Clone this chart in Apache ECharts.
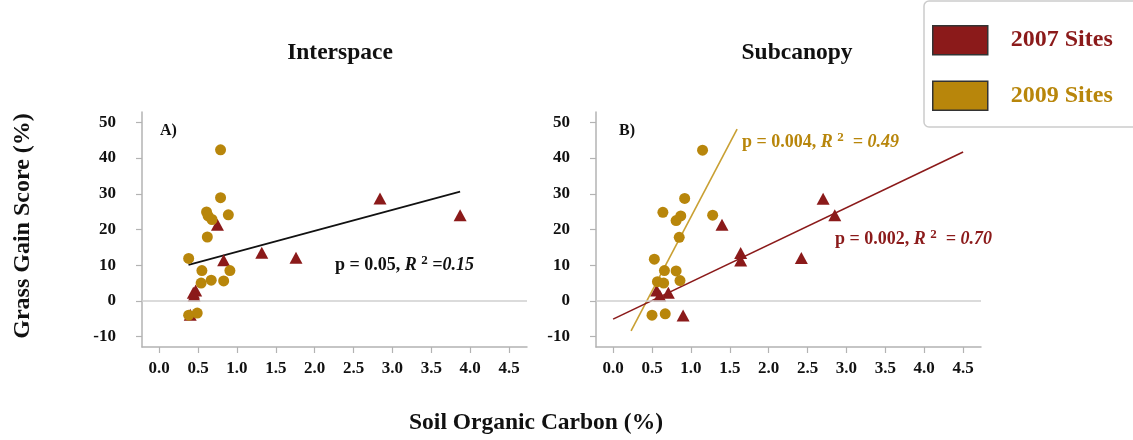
<!DOCTYPE html>
<html><head><meta charset="utf-8">
<script src="https://cdn.jsdelivr.net/npm/echarts@6/dist/echarts.min.js"></script>
<style>html,body{margin:0;padding:0;background:#fff}#c{width:1133px;height:440px}</style>
</head><body><div id="c"></div>
<script>
// ---- data ----
const panelTitles = ['Interspace', 'Subcanopy'];
const panelTags = ['A)', 'B)'];
const seriesNames = ['2007 Sites', '2009 Sites'];
const xTicks = [0, 0.5, 1.0, 1.5, 2.0, 2.5, 3.0, 3.5, 4.0, 4.5];
const yTicks = [-10, 0, 10, 20, 30, 40, 50];

// Panel A (Interspace)
const socA2007  = [0.40, 0.45, 0.47, 0.44, 0.75, 0.83, 1.32, 1.76, 2.84, 3.87];
const gainA2007 = [-3.9, 1.5, 2.9, 2.3, 21.3, 11.4, 13.5, 12.1, 28.7, 24.0];
const socA2009  = [0.38, 0.49, 0.38, 0.55, 0.54, 0.67, 0.83, 0.91, 0.62, 0.61, 0.63, 0.68, 0.89, 0.79, 0.79];
const gainA2009 = [-4.0, -3.4, 11.9, 8.5, 5.0, 5.8, 5.6, 8.5, 17.9, 24.9, 23.8, 22.8, 24.1, 28.9, 42.3];
// Panel B (Subcanopy)
const socB2007  = [0.56, 0.60, 0.71, 0.90, 1.40, 1.64, 1.64, 2.42, 2.70, 2.85];
const gainB2007 = [2.9, 1.5, 2.3, -4.1, 21.3, 13.4, 11.3, 12.0, 28.6, 24.0];
const socB2009  = [1.15, 0.92, 0.64, 0.87, 0.81, 1.28, 0.85, 0.53, 0.66, 0.81, 0.57, 0.65, 0.86, 0.50, 0.67];
const gainB2009 = [42.2, 28.7, 24.8, 23.8, 22.5, 24.0, 17.8, 11.7, 8.5, 8.4, 5.4, 5.0, 5.7, -4.0, -3.6];

// Regression lines (end points)
const trendAx = [0.378, 3.87],   trendAy = [10.1, 30.6];
const trendB09x = [0.231, 1.594], trendB09y = [-8.4, 48.1];
const trendB07x = [0.0, 4.5],     trendB07y = [-5.1, 41.7];

const statA = ['0.05', '0.15'];
const statB09 = ['0.004', '0.49'];
const statB07 = ['0.002', '0.70'];

// ---- styling ----
const RED = '#8b1a1a', GOLD = '#b8860b', GOLDLINE = '#c9a033';
const FONT = '"Liberation Serif", "Times New Roman", serif';
const pairs = (xs, ys) => xs.map((x, i) => [x, ys[i]]);

const chart = echarts.init(document.getElementById('c'), null, {renderer: 'canvas'});

const gridW = 385, gridTop = 112, gridH = 235;
const grids = [{left: 142, top: gridTop, width: gridW, height: gridH},
               {left: 596, top: gridTop, width: gridW, height: gridH}];

const axisCol = '#b3b3b3';
const xAxes = [0, 1].map(i => ({
  gridIndex: i, type: 'value', min: -0.22, max: 4.73,
  axisLine: {show: true, onZero: false, lineStyle: {color: axisCol, width: 1.5}},
  axisTick: {show: true, customValues: xTicks, length: 6, lineStyle: {color: axisCol, width: 1.2}},
  axisLabel: {customValues: xTicks, formatter: v => Number(v).toFixed(1), margin: 13,
    fontFamily: FONT, fontWeight: 'bold', fontSize: 17, color: '#111'},
  splitLine: {show: false}
}));
const yAxes = [0, 1].map(i => ({
  gridIndex: i, type: 'value', min: -12.9, max: 52.9,
  axisLine: {show: true, onZero: false, lineStyle: {color: axisCol, width: 1.5}},
  axisTick: {show: true, customValues: yTicks, length: 6, lineStyle: {color: axisCol, width: 1.2}},
  axisLabel: {customValues: yTicks, formatter: v => String(Math.round(v)), margin: 26,
    fontFamily: FONT, fontWeight: 'bold', fontSize: 17, color: '#111'},
  splitLine: {show: false}
}));

const zeroLine = {silent: true, symbol: ['none', 'none'], label: {show: false},
  lineStyle: {color: '#cfcfcf', width: 1.5, type: 'solid'}, data: [{yAxis: 0}]};

function scatter(name, idx, xs, ys, sym, color, size, z) {
  return {name, type: 'scatter', xAxisIndex: idx, yAxisIndex: idx, symbol: sym, symbolSize: size,
    itemStyle: {color, opacity: 1}, data: pairs(xs, ys), z};
}
function trend(name, idx, xs, ys, color) {
  return {name, type: 'line', xAxisIndex: idx, yAxisIndex: idx, data: pairs(xs, ys), symbol: 'none',
    lineStyle: {color, width: 1.6}, silent: true, z: 1};
}

const series = [
  Object.assign(trend('trendA', 0, trendAx, trendAy, '#111'), {markLine: zeroLine}),
  scatter(seriesNames[0], 0, socA2007, gainA2007, 'triangle', RED, [13, 12], 3),
  scatter(seriesNames[1], 0, socA2009, gainA2009, 'circle', GOLD, 11, 4),
  Object.assign(trend('trendB09', 1, trendB09x, trendB09y, GOLDLINE), {markLine: zeroLine}),
  trend('trendB07', 1, trendB07x, trendB07y, RED),
  scatter(seriesNames[0], 1, socB2007, gainB2007, 'triangle', RED, [13, 12], 3),
  scatter(seriesNames[1], 1, socB2009, gainB2009, 'circle', GOLD, 11, 4)
];

function statText(p, r2, color, x, y, tight) {
  return {type: 'text', x, y, style: {
    text: '{a|p = ' + p + ', }{i|R }{s|2}{i|' + (tight ? ' =' : '  = ') + r2 + '}',
    verticalAlign: 'middle',
    rich: {
      a: {fontFamily: FONT, fontWeight: 'bold', fontSize: 18, fill: color, color},
      i: {fontFamily: FONT, fontWeight: 'bold', fontStyle: 'italic', fontSize: 18, fill: color, color},
      s: {fontFamily: FONT, fontWeight: 'bold', fontSize: 13, fill: color, color, padding: [0, 0, 9, 0]}
    }}};
}

const textStyleBase = {fontFamily: FONT, fontWeight: 'bold', fill: '#111'};
const graphic = [
  {type: 'text', x: 340, y: 53, style: Object.assign({text: panelTitles[0], fontSize: 23.5, align: 'center', verticalAlign: 'middle'}, textStyleBase)},
  {type: 'text', x: 797, y: 53, style: Object.assign({text: panelTitles[1], fontSize: 23.5, align: 'center', verticalAlign: 'middle'}, textStyleBase)},
  {type: 'text', x: 160, y: 131, style: Object.assign({text: panelTags[0], fontSize: 16, verticalAlign: 'middle'}, textStyleBase)},
  {type: 'text', x: 619, y: 131, style: Object.assign({text: panelTags[1], fontSize: 16, verticalAlign: 'middle'}, textStyleBase)},
  {type: 'text', x: 536, y: 423, style: Object.assign({text: 'Soil Organic Carbon (%)', fontSize: 23.5, align: 'center', verticalAlign: 'middle'}, textStyleBase)},
  {type: 'text', x: 23, y: 226, rotation: Math.PI / 2, style: Object.assign({text: 'Grass Gain Score (%)', fontSize: 24, align: 'center', verticalAlign: 'middle'}, textStyleBase)},
  statText(statA[0], statA[1], '#111', 335, 265, true),
  statText(statB09[0], statB09[1], GOLD, 742, 142, false),
  statText(statB07[0], statB07[1], RED, 835, 239, false)
];

chart.setOption({
  animation: false,
  backgroundColor: '#fff',
  grid: grids,
  xAxis: xAxes,
  yAxis: yAxes,
  legend: {
    show: true, orient: 'vertical', left: 924, top: 1,
    padding: [24, 40, 16, 8], itemGap: 25, itemWidth: 55, itemHeight: 29,
    icon: 'rect', selectedMode: false,
    backgroundColor: '#fff', borderColor: '#cccccc', borderWidth: 1.5, borderRadius: 5,
    itemStyle: {borderColor: '#333', borderWidth: 1.5},
    textStyle: {fontFamily: FONT, fontWeight: 'bold', fontSize: 24, padding: [0, 0, 0, 18]},
    data: [
      {name: seriesNames[0], textStyle: {color: RED}},
      {name: seriesNames[1], textStyle: {color: GOLD}}
    ]
  },
  series,
  graphic
});
</script></body></html>
